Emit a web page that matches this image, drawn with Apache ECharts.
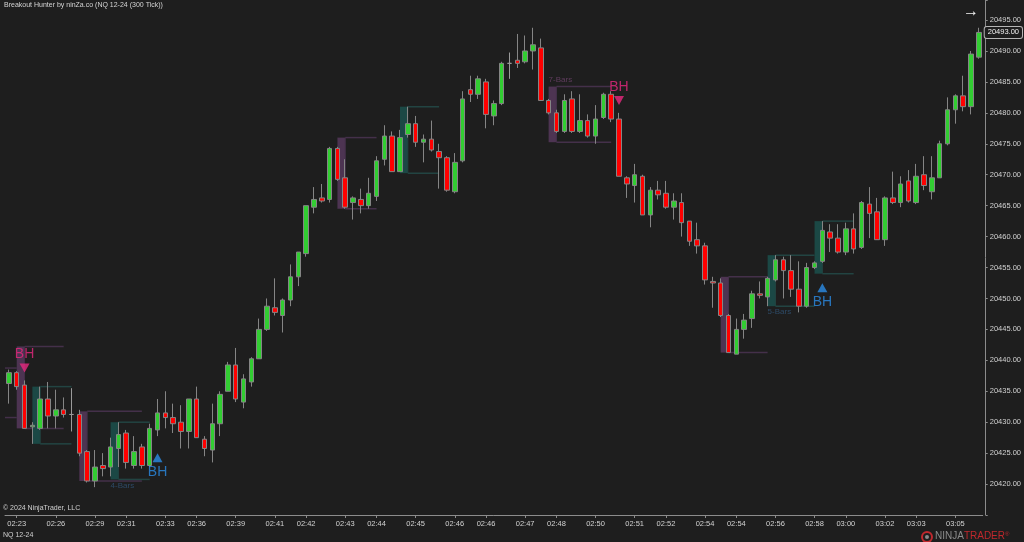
<!DOCTYPE html>
<html>
<head>
<meta charset="utf-8">
<script src="https://cdn.jsdelivr.net/npm/echarts@6/dist/echarts.min.js"></script>
<style>
html,body{margin:0;padding:0;background:#1e1e1e;}
#chart{width:1024px;height:542px;}
</style>
</head>
<body>
<div id="chart"></div>
<script>
// ---- data ----
const opens = [20436.25,20438,20436,20429.25,20429,20433.75,20431,20432,20431.25,20431.25,
20425.25,20420.5,20423,20422.75,20425.75,20428.25,20423,20426,20423,20428.75,
20431.5,20430.75,20430,20428.5,20433.75,20427.25,20425.5,20429.75,20435,20439.25,
20433.25,20436.5,20440.25,20445,20448.5,20447.25,20449.75,20453.5,20457.25,20464.75,
20466.25,20466,20474.25,20469.5,20465.5,20466,20465,20466.5,20472.5,20476.25,
20470.5,20476.5,20478.25,20475.25,20475.75,20473.75,20472.75,20467.25,20472.25,20483.75,
20483,20485,20479.5,20481.5,20488,20488.5,20488.25,20490,20490.5,20482,
20480,20477,20482.25,20477,20478.75,20476.25,20479.25,20483,20479,20469.5,
20468.25,20469.75,20463.5,20467.5,20467,20464.75,20465.5,20462.5,20459.5,20458.5,
20452.75,20452.5,20447.25,20441,20445,20446.75,20450.75,20450.25,20453,20456.25,
20454.5,20451.5,20448.75,20455,20456,20460.75,20459.75,20457.5,20461.25,20458.25,
20465.25,20464,20459.5,20466.25,20465.5,20469,20465.5,20470,20467.25,20469.5,
20475,20480.5,20482.75,20481,20489];
const closes = [20438,20435.75,20429,20429.5,20433.75,20431,20432,20431.25,20431.25,20425,
20420.5,20422.75,20422.5,20426,20428,20423.5,20425.25,20423,20429,20431.5,
20430.75,20429.75,20428.5,20433.75,20427.5,20425.75,20429.75,20434.5,20439.25,20433.75,
20437,20440.25,20445,20448.75,20447.75,20449.75,20453.5,20457.5,20465,20466,
20465.75,20474.25,20469.25,20464.75,20466.25,20465,20467,20472.25,20476.25,20470.5,
20476,20478.25,20475.25,20475.75,20474,20472.75,20467.5,20472,20482.25,20483,
20485.5,20479.75,20481.5,20488,20488,20488,20490,20491,20482,20480,
20477,20482,20477,20478.75,20476.25,20479,20483,20479,20469.75,20468.5,
20470,20463.5,20467.5,20466.75,20464.75,20465.75,20462.25,20459.25,20458.5,20453,
20452.5,20447.25,20441.25,20445,20446.5,20450.75,20450.5,20453.25,20456.25,20454.5,
20451.5,20448.75,20455,20455.75,20461,20459.75,20457.5,20461.25,20458,20465.5,
20463.75,20459.5,20466.25,20465.5,20468.5,20465.75,20469.75,20468.25,20469.5,20475,
20480.5,20482.75,20481,20489.5,20493];
const lows = [20433,20435.25,20429,20426.5,20428.75,20429,20429,20430.75,20428.5,20424.5,
20420.25,20419.5,20421.25,20421.25,20422.75,20422.5,20422.5,20422.5,20422.75,20427.75,
20429,20428.25,20425.75,20425.75,20427.5,20424.5,20423.5,20427.75,20435,20433.25,
20432.25,20435.75,20440.25,20444.75,20447.25,20444.5,20448.75,20452,20456.75,20463.75,
20465.5,20465.5,20469,20464.5,20462.75,20463.75,20464.5,20465.75,20471.5,20470.5,
20470.5,20476,20474.5,20472,20473.75,20467.75,20467.25,20467,20472,20481.75,
20482.25,20477.5,20478,20481.25,20485.5,20487.25,20488,20487,20482,20479.75,
20476.75,20476.75,20476.75,20476.75,20476,20475,20479,20478.5,20469.75,20466.25,
20465.5,20463.5,20461.5,20466,20464.5,20462.75,20460,20458.5,20457.25,20452.25,
20448.5,20447,20441.25,20441,20443.5,20445.25,20450,20448.75,20452.75,20450,
20450.25,20447.75,20448.5,20454.75,20455.75,20457.5,20457.25,20457,20457.25,20458,
20459.75,20459.5,20458.5,20465.25,20464.75,20465.5,20465.25,20467.5,20466,20469.5,
20474.75,20478.25,20480.25,20479.75,20488.75];
const highs = [20438.5,20438.25,20436.75,20430,20435.75,20436.5,20435.25,20434,20435.5,20432,
20425.5,20425.5,20425,20427.5,20430,20428.75,20427.75,20426.5,20429.75,20433.75,
20435,20433,20432.75,20433.75,20435.75,20427.75,20433,20435,20439.75,20442,
20437.75,20440.5,20446.75,20450,20453.25,20450,20455.5,20457.5,20465,20468,
20468.5,20474.5,20474.5,20472.5,20466.5,20467.75,20469.5,20473,20478,20477,
20477.25,20481,20479.5,20476.5,20478.75,20475,20473,20473.5,20483.5,20486,
20486,20485.5,20482,20488.25,20489.75,20492.75,20492.5,20493.75,20492,20482.25,
20480.5,20483,20483.5,20483,20479.75,20481.25,20483.25,20483.5,20480,20469.75,
20471.75,20470,20468,20469,20469,20467,20467,20462.5,20462.25,20459,
20453.5,20453.25,20447.5,20446.75,20447.5,20451.25,20452.75,20453.5,20457,20456.75,
20457,20456,20455.75,20456,20462.5,20462,20462,20462.25,20463.75,20465.75,
20468,20466.25,20466.5,20470.5,20469.75,20470.75,20471.75,20473,20473,20475.5,
20482.5,20483,20486,20490,20493.75];

// time labels shown on the x axis (bar index -> label)
const tickIdx = [1,6,11,15,20,24,29,34,38,43,47,52,57,61,66,70,75,80,84,89,93,98,103,107,112,116,121];
const tickLabels = ['02:23','02:26','02:29','02:31','02:33','02:36','02:39','02:41','02:42','02:43','02:44','02:45','02:46','02:46','02:47','02:48','02:50','02:51','02:52','02:54','02:54','02:56','02:58','03:00','03:02','03:03','03:05'];

// Breakout Hunter consolidation boxes
const boxStart  = [-4, 1, 3, 9, 13, 42, 50, 69, 91, 97, 103];
const boxBars   = [4, 5, 4, 7, 4, 4, 4, 7, 5, 5, 4];
const boxTop    = [20438.75,20442.25,20435.75,20431.75,20430,20476,20481,20484.25,20453.5,20457,20462.5];
const boxBottom = [20430.75,20429,20426.5,20420.5,20420.75,20464.5,20470.25,20475.25,20441.25,20448.75,20454];
const boxDir    = ['down','down','up','down','up','down','up','down','down','up','up'];
const boxLabeled= [true,false,false,false,true,false,false,true,false,true,false];

// BH signals
const bhUpIdx = [19, 104];
const bhUpPrice = [20424.25, 20451.75];
const bhDownIdx = [2, 78];
const bhDownPrice = [20438.75, 20482];

const lastPrice = closes[closes.length - 1];

// ---- chart ----
const chart = echarts.init(document.getElementById('chart'), null, {renderer: 'canvas'});
const FONT = '"Liberation Sans", Arial, sans-serif';
const idxs = opens.map((_, i) => i);
const candleData = opens.map((o, i) => [o, closes[i], lows[i], highs[i]]);
const labelOf = i => { const j = tickIdx.indexOf(i); return j >= 0 ? tickLabels[j] : ''; };

const COL = {
  down: {shade: '#4d3452', line: '#44304a', text: '#603c5e'},
  up:   {shade: '#1b4845', line: '#224442', text: '#2d4a66'}
};

function renderBox(params, api) {
  const i = params.dataIndex;
  const s = boxStart[i], n = boxBars[i], top = boxTop[i], bot = boxBottom[i];
  const c = COL[boxDir[i]];
  const a = api.coord([s, top]);
  const b = api.coord([s + 1, bot]);
  const e = api.coord([s + 1 + n, top]);
  const children = [
    {type: 'rect', shape: {x: a[0], y: a[1], width: b[0] - a[0], height: b[1] - a[1]},
     style: {fill: c.shade}},
    {type: 'line', shape: {x1: b[0], y1: a[1], x2: e[0], y2: a[1]}, style: {stroke: c.line, lineWidth: 1.5}},
    {type: 'line', shape: {x1: b[0], y1: b[1], x2: e[0], y2: b[1]}, style: {stroke: c.line, lineWidth: 1.5}},
    {type: 'line', shape: {x1: b[0], y1: a[1], x2: b[0], y2: b[1]}, style: {stroke: c.line, lineWidth: 1}}
  ];
  if (boxLabeled[i]) {
    const isDown = boxDir[i] === 'down';
    children.push({type: 'text', x: a[0], y: isDown ? a[1] - 3 : b[1] + 2,
      style: {text: n + '-Bars', fill: c.text, font: '8px ' + FONT,
              textVerticalAlign: isDown ? 'bottom' : 'top', textAlign: 'left'}});
  }
  return {type: 'group', children};
}

const option = {
  backgroundColor: '#1e1e1e',
  animation: false,
  grid: {left: 5, width: 979, top: 0, bottom: 27},
  xAxis: {
    type: 'category', data: idxs, boundaryGap: true,
    axisLine: {show: true, lineStyle: {color: '#8c8c8c', width: 1}},
    axisTick: {show: true, alignWithLabel: true, length: 3, interval: (i) => tickIdx.includes(i),
               lineStyle: {color: '#8c8c8c'}},
    axisLabel: {interval: (i) => tickIdx.includes(i), formatter: (v, i) => labelOf(i),
                color: '#d2d2d2', fontSize: 7.5, fontFamily: FONT, margin: 5},
    splitLine: {show: false}
  },
  yAxis: {
    type: 'value', position: 'right', min: 20415, max: 20498.24, interval: 5, offset: 3,
    axisLine: {show: true, lineStyle: {color: '#8c8c8c', width: 1}},
    axisTick: {show: true, length: 2, lineStyle: {color: '#8c8c8c'}},
    axisLabel: {color: '#d2d2d2', fontSize: 7.5, fontFamily: FONT, margin: 4,
                formatter: v => (Math.abs(v % 5) < 1e-6 && v > 20415) ? v.toFixed(2) : ''},
    splitLine: {show: false}
  },
  series: [
    {
      type: 'custom', name: 'boxes', z: 1, clip: true,
      renderItem: renderBox,
      data: boxStart.map((s, i) => [i]),
      encode: {x: -1, y: -1},
      silent: true
    },
    {
      type: 'candlestick', name: 'NQ', z: 3, barWidth: 5,
      data: candleData,
      itemStyle: {color: '#32cd32', color0: '#ff0000', borderColor: '#858585', borderColor0: '#858585',
                  borderColorDoji: '#9a9a9a', borderWidth: 1},
      emphasis: {disabled: true}
    },
    {
      type: 'line', name: 'last', z: 6, silent: true, data: [],
      markLine: {
        silent: true, symbol: ['none', 'none'], animation: false,
        lineStyle: {color: 'rgba(0,0,0,0)', width: 0, type: 'solid'},
        label: {show: true, position: 'end', distance: 2, formatter: () => lastPrice.toFixed(2),
                color: '#f0f0f0', fontSize: 7.5, fontFamily: FONT, backgroundColor: '#1e1e1e',
                borderColor: '#b5b5b5', borderWidth: 1, borderRadius: 2, padding: [2, 3, 1, 3]},
        data: [{yAxis: lastPrice}]
      }
    },
    {
      type: 'scatter', name: 'BH up', z: 5, silent: true,
      data: bhUpIdx.map((x, i) => [x, bhUpPrice[i]]),
      symbol: 'triangle', symbolSize: [10, 9],
      itemStyle: {color: '#2a8ce6'},
      label: {show: true, formatter: 'BH', position: 'bottom', distance: 3, color: '#2a8ce6',
              fontSize: 14, fontFamily: FONT}
    },
    {
      type: 'scatter', name: 'BH down', z: 5, silent: true,
      data: bhDownIdx.map((x, i) => [x, bhDownPrice[i]]),
      symbol: 'triangle', symbolRotate: 180, symbolSize: [10, 9],
      itemStyle: {color: '#e8287f'},
      label: {show: true, formatter: 'BH', position: 'top', distance: 2, color: '#e8287f',
              fontSize: 14, fontFamily: FONT}
    }
  ],
  graphic: [
    {type: 'text', left: 4, top: 2, style: {text: 'Breakout Hunter by ninZa.co (NQ 12-24 (300 Tick))',
      fill: '#d4d4d4', font: '7px ' + FONT}},
    {type: 'text', left: 3, top: 505, style: {text: '\u00a9 2024 NinjaTrader, LLC', fill: '#d0d0d0', font: '7px ' + FONT}},
    {type: 'text', left: 3, top: 532, style: {text: 'NQ 12-24', fill: '#d0d0d0', font: '7px ' + FONT}},
    {type: 'text', left: 963, top: 4, style: {text: '\u2192', fill: '#f2f2f2', font: '16px ' + FONT}},
    {type: 'circle', shape: {cx: 927, cy: 537, r: 5}, style: {fill: 'none', stroke: '#c0282d', lineWidth: 2}},
    {type: 'circle', shape: {cx: 927, cy: 537, r: 2}, style: {fill: '#8a8a8a'}},
    {type: 'text', left: 935, top: 531, style: {
      text: '{a|NINJA}{b|TRADER}{c|\u00ae}',
      rich: {a: {fill: '#8c8c8c', font: '10px ' + FONT}, b: {fill: '#c0282d', font: '10px ' + FONT},
             c: {fill: '#c0282d', font: '6px ' + FONT, verticalAlign: 'top'}}}}
  ]
};
chart.setOption(option);
</script>
</body>
</html>
